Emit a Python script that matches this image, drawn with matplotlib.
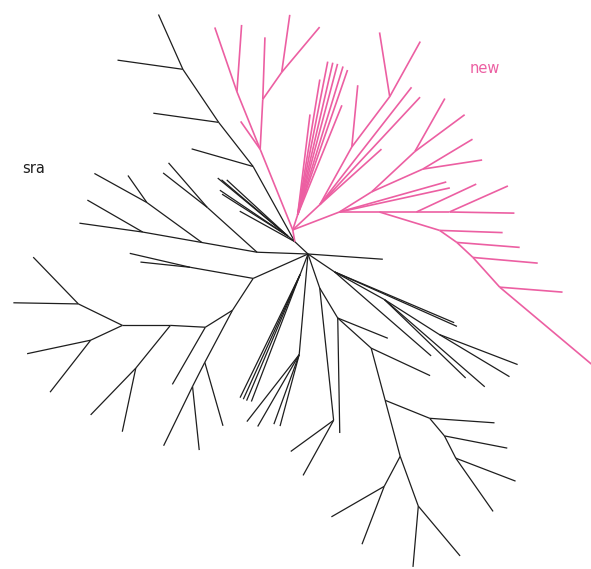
import numpy as np
import matplotlib
matplotlib.use("Agg")
import matplotlib.pyplot as plt

# Unrooted tree: each branch = (child, parent, angle in degrees, length in px)
# angle measured counter-clockwise from the +x axis (screen up = 90)

# "sra" clade (black)
sra_child = ["r1", "u", "n1", "n1a", "n2", "n2a", "n3", "n3a", "n3b",
             "c", "c1", "c2", "c3", "c4", "c5", "c6",
             "l", "m1", "a", "a1", "a2", "m2", "m2a", "m2b", "b", "b1", "b2",
             "k", "p", "p1", "p2", "q", "r", "s", "t", "v", "v1", "v2",
             "w", "w1", "w2", "x", "x1", "x2", "r2", "y", "y1", "z", "z1", "z2",
             "f1", "f1a", "f1b", "f1c", "f1d",
             "f2", "f2a", "f2b", "f2c", "f2d",
             "g", "g2", "g2a", "g2b", "g3", "g3a", "t1", "t1n", "t1n1",
             "nn", "nn1", "nn2", "nn2a", "nn2b", "t2", "t2a", "t2a1", "t2a2",
             "t3", "t3a", "t3b", "j", "j1", "j2",
             "d", "d1", "d2", "d3", "e", "e1", "e2", "e3", "e3a", "e3b"]
sra_parent = ["h", "h", "u", "n1", "n1", "n2", "n2", "n3", "n3",
              "u", "c", "c", "c", "c", "c", "u",
              "h", "l", "m1", "a", "a", "m1", "m2", "m2", "l", "b", "b",
              "h", "k", "p", "p", "k", "q", "r", "s", "t", "v", "v",
              "t", "w", "w", "s", "x", "x", "r", "q", "y", "y", "z", "z",
              "h", "f1", "f1", "f1", "f1",
              "h", "f2", "f2", "f2", "f2",
              "h", "g", "g2", "g2", "g2", "g3", "g3", "t1", "t1n",
              "t1n", "nn", "nn", "nn2", "nn2", "t1", "t2", "t2a", "t2a",
              "t2", "t3", "t3", "g", "j", "j",
              "h", "d", "d", "d", "d", "e", "e", "e", "e3", "e3"]
sra_angle = [-4, 137, 119, 164, 128, 172, 124, 172, 114,
             141, 140.4, 139.7, 137.4, 146, 147.5, 151,
             178, 170, 144, 151, 125, 170, 150, 172, 138, 131, 142,
             204, 170, 167, 174, 237, 212, 177, 180, 154, 179, 134,
             205, 192, 232, 231, 226, 258, 240, 242, 286, 243, 244, 276,
             249, 244, 245.5, 247, 249,
             265, 232, 240, 250, 255,
             289, 301, 271, 338, 318, 335, 285, 338, 356,
             310, 349, 297, 339, 305, 285, 242, 210, 249,
             290, 310, 265, 276, 216, 241,
             326, 336, 337, 319, 331, 316, 319, 327.5, 329, 339]
sra_length = [75, 18, 86, 64, 56, 66, 64, 66, 60,
              9, 91, 87, 83, 82, 78, 63,
              51, 56, 68, 60, 33, 60, 64, 64, 67, 59, 56,
              60, 64, 62, 50, 38, 32, 35, 48, 49, 65, 65,
              35, 65, 66, 55, 65, 65, 66, 59, 66, 27, 66, 64,
              22, 137, 137, 137, 136,
              101, 85, 83, 74, 74,
              36, 35, 115, 54, 45, 65, 54, 48, 65,
              23, 64, 25, 64, 65, 58, 34, 61, 62,
              53, 65, 61, 133, 53, 63,
              32, 134, 130, 128, 57, 113, 133, 65, 82, 84]

# "new" clade (pink), hangs off node "u"
new_child = ["p0", "pa", "pb", "pb1", "pb2", "pa1", "pc", "pc1", "pd", "pd1", "pd2",
             "pf", "pf1", "pf2", "pf3", "pf4", "pf5", "pf6", "pf7", "pf8",
             "pg", "ph", "ph1", "pi", "pi1", "pi2", "pg1", "pg2", "pg3",
             "s1", "s1a", "s1b", "pj", "pk", "pk1", "pk2", "pl", "pl1", "pl2",
             "s2", "h1", "h1a", "h2", "h2a", "h2b",
             "s3", "s3a", "s4", "s4a", "s5", "s5a", "s6", "s6a", "s6b"]
new_parent = ["u", "p0", "pa", "pb", "pb", "pa", "pa", "pc", "pc", "pd", "pd",
              "p0", "pf", "pf", "pf", "pf", "pf", "pf", "pf", "pf",
              "p0", "pg", "ph", "ph", "pi", "pi", "pg", "pg", "pg",
              "p0", "s1", "s1", "s1", "pj", "pk", "pk", "pj", "pl", "pl",
              "s1", "s2", "h1", "h1", "h2", "h2",
              "s2", "s3", "s3", "s4", "s4", "s5", "s5", "s6", "s6"]
new_angle = [100, 112, 112, 109, 86, 125, 87, 88, 55, 82, 50,
             72, 78.9, 77, 75.2, 73, 71, 80.7, 83, 68,
             43, 61, 84.5, 53, 99, 61, 52, 47, 42,
             21, 15.7, 12.3, 32, 43, 60.5, 36.5, 24, 31, 8.7,
             0, 0, 25, 0, 24, -1,
             -17, -2, -35, -4.5, -43, -5, -48, -4.5, -40]
new_length = [12, 87, 62, 68, 67, 34, 50, 62, 33, 58, 59,
              16, 156, 156, 156, 155, 153, 137, 101, 118,
              37, 66, 62, 63, 65, 63, 149, 147, 83,
              50, 111, 113, 38, 59, 61, 62, 56, 58, 60,
              40, 37, 66, 33, 64, 65,
              63, 63, 21, 63, 22, 65, 40, 63, 131]

labels = ["sra", "new"]

fig = plt.figure(figsize=(5.91, 5.69), dpi=100)
ax = fig.add_axes([0, 0, 1, 1])
ax.set_xlim(0, 591)
ax.set_ylim(569, 0)
ax.axis("off")

pos = {"h": (308.0, 254.0)}


def draw(children, parents, angles, lengths, color, lw):
    for ch, pa, ang, ln in zip(children, parents, angles, lengths):
        x0, y0 = pos[pa]
        t = np.radians(ang)
        x1 = x0 + ln * np.cos(t)
        y1 = y0 - ln * np.sin(t)
        pos[ch] = (x1, y1)
        ax.plot([x0, x1], [y0, y1], color=color, lw=lw,
                solid_capstyle="butt", clip_on=True)


draw(sra_child, sra_parent, sra_angle, sra_length, "#1e1e1e", 0.9)
draw(new_child, new_parent, new_angle, new_length, "#ec5fa2", 1.2)

ax.text(22, 168, labels[0], color="#1e1e1e", fontsize=10.5,
        ha="left", va="center", family="DejaVu Sans")
ax.text(470, 68, labels[1], color="#ec5fa2", fontsize=10.5,
        ha="left", va="center", family="DejaVu Sans")

fig.savefig("out.png", dpi=100)
